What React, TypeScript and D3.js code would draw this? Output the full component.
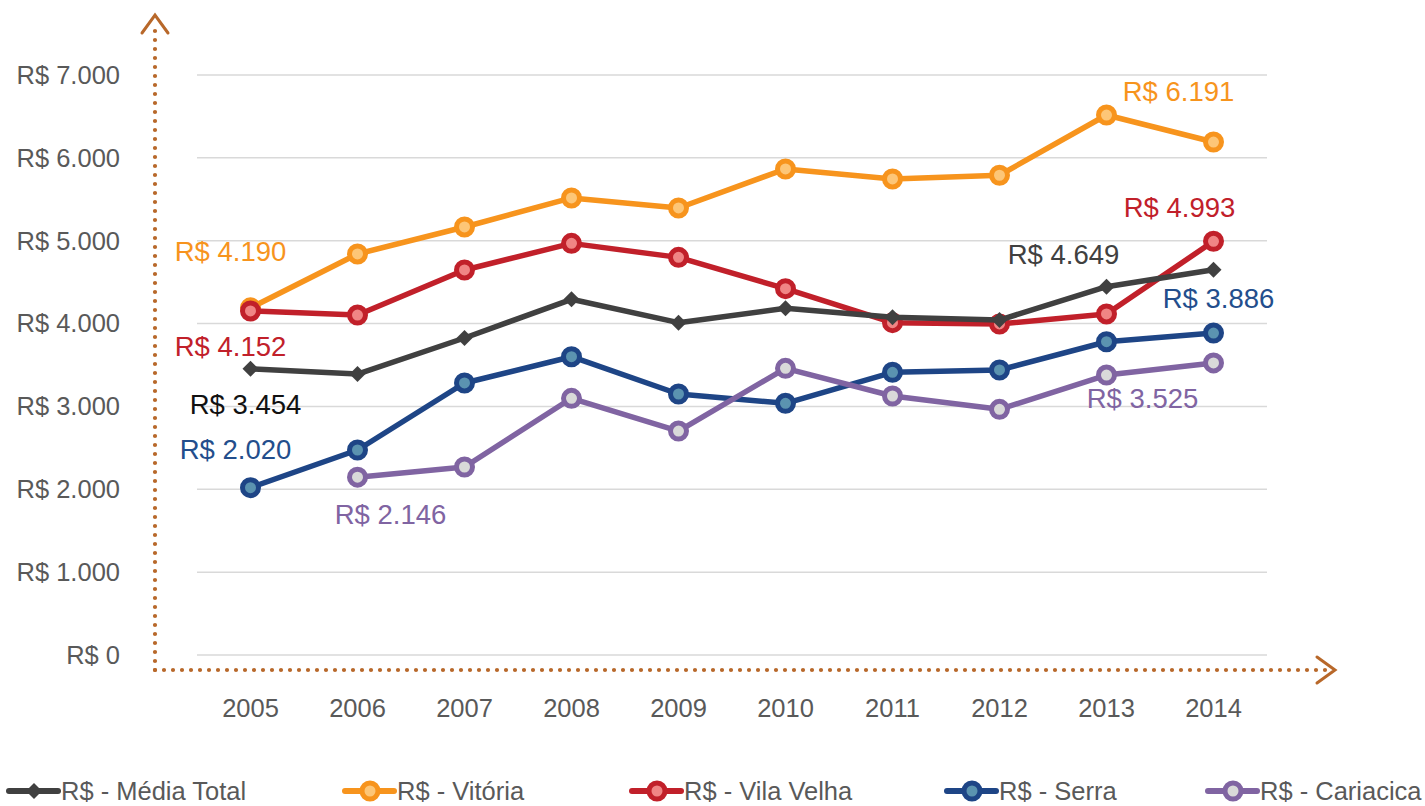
import React from 'react';
import * as d3 from 'd3';

// ---- data ----
const years = ['2005', '2006', '2007', '2008', '2009', '2010', '2011', '2012', '2013', '2014'];
const mediaTotal = [3454, 3391, 3826, 4293, 4011, 4184, 4075, 4043, 4445, 4649];
const vitoria = [4190, 4840, 5166, 5516, 5395, 5866, 5745, 5790, 6517, 6191];
const vilaVelha = [4152, 4103, 4647, 4968, 4799, 4421, 4011, 3995, 4116, 4993];
const serra = [2020, 2474, 3283, 3600, 3150, 3038, 3412, 3440, 3781, 3886];
const cariacica: (number | null)[] = [null, 2146, 2269, 3098, 2703, 3460, 3126, 2965, 3379, 3525];
const yTicks = [0, 1000, 2000, 3000, 4000, 5000, 6000, 7000];

const width = 1425;
const height = 806;
const font = '"Liberation Sans", Arial, sans-serif';
const axisColor = '#B8682A';
const textColor = '#595959';

type Series = {
  name: string;
  values: (number | null)[];
  color: string;
  inner: string;
  marker: 'circle' | 'diamond';
  labelColor: string;
  // which points get a label, and where the label sits relative to the point
  labels: { i: number; dx: number; dy: number }[];
  legendX: number;
};

const series: Series[] = [
  {
    name: 'R$ - Vitória', values: vitoria, color: '#F7941D', inner: '#FDC677', marker: 'circle',
    labelColor: '#F7941D', labels: [{ i: 0, dx: -20, dy: -47 }, { i: 9, dx: -35, dy: -41 }], legendX: 345,
  },
  {
    name: 'R$ - Vila Velha', values: vilaVelha, color: '#C1202A', inner: '#F08585', marker: 'circle',
    labelColor: '#C1202A', labels: [{ i: 0, dx: -20, dy: 45 }, { i: 9, dx: -34, dy: -24 }], legendX: 632,
  },
  {
    name: 'R$ - Serra', values: serra, color: '#1E4586', inner: '#5B93B0', marker: 'circle',
    labelColor: '#234E8C', labels: [{ i: 0, dx: -15, dy: -29 }, { i: 9, dx: 5, dy: -25 }], legendX: 947,
  },
  {
    name: 'R$ - Cariacica', values: cariacica, color: '#8064A2', inner: '#D9D9D9', marker: 'circle',
    labelColor: '#8064A2', labels: [{ i: 1, dx: 33, dy: 47 }, { i: 9, dx: -71, dy: 45 }], legendX: 1208,
  },
  {
    name: 'R$ - Média Total', values: mediaTotal, color: '#404040', inner: '#404040', marker: 'diamond',
    labelColor: '#111111', labels: [{ i: 0, dx: -5, dy: 45 }, { i: 9, dx: -150, dy: -6 }], legendX: 9,
  },
];

const ptBR = d3.formatLocale({ decimal: ',', thousands: '.', grouping: [3], currency: ['R$ ', ''] });
const fmt = ptBR.format('$,.0f');

const x = d3.scaleBand<string>().domain(years).range([197, 1267]);
const y = d3.scaleLinear().domain([0, 7000]).range([655, 75]);
const cx = (yr: string) => (x(yr) ?? 0) + x.bandwidth() / 2;

const Marker = ({ s, px, py }: { s: Series; px: number; py: number }) =>
  s.marker === 'diamond' ? (
    <path d={`M${px},${py - 8}L${px + 8},${py}L${px},${py + 8}L${px - 8},${py}Z`} fill={s.color} />
  ) : (
    <circle cx={px} cy={py} r={8} fill={s.inner} stroke={s.color} strokeWidth={5} />
  );

export default function App() {
  const line = d3.line<number | null>()
    .defined((d) => d != null)
    .x((_, i) => cx(years[i]))
    .y((d) => y(d as number));

  const axisY = 670;
  const axisX = 155;

  return (
    <svg width={width} height={height} style={{ position: 'absolute', left: 0, top: 0, background: '#fff' }}
      fontFamily={font}>
      {/* gridlines */}
      {yTicks.map((t) => (
        <line key={t} x1={197} x2={1267} y1={y(t)} y2={y(t)} stroke="#D9D9D9" strokeWidth={1.5} />
      ))}
      {/* y tick labels */}
      {yTicks.map((t) => (
        <text key={t} x={120} y={y(t)} dy="0.35em" textAnchor="end" fontSize={25.5} fill={textColor}>
          {fmt(t)}
        </text>
      ))}
      {/* x tick labels */}
      {years.map((yr) => (
        <text key={yr} x={cx(yr)} y={717} textAnchor="middle" fontSize={25.5} fill={textColor}>{yr}</text>
      ))}

      {/* dotted axes with arrowheads */}
      <g stroke={axisColor} fill="none" strokeLinecap="round">
        <line x1={axisX} y1={axisY} x2={axisX} y2={24} strokeWidth={4.2} strokeDasharray="0 9" />
        <line x1={axisX} y1={axisY} x2={1330} y2={axisY} strokeWidth={4.2} strokeDasharray="0 9" />
        <path d={`M${axisX - 13},${33}L${axisX},${15}L${axisX + 13},${33}`} strokeWidth={3} strokeLinejoin="miter" />
        <path d={`M1317,${axisY - 13}L1335,${axisY}L1317,${axisY + 13}`} strokeWidth={3} />
      </g>

      {/* series lines and markers */}
      {series.map((s) => (
        <g key={s.name}>
          <path d={line(s.values) ?? ''} fill="none" stroke={s.color} strokeWidth={5.5} strokeLinejoin="round" />
          {s.values.map((v, i) =>
            v == null ? null : <Marker key={i} s={s} px={cx(years[i])} py={y(v)} />
          )}
        </g>
      ))}

      {/* data labels */}
      {series.map((s) =>
        s.labels.map((l) => {
          const v = s.values[l.i] as number;
          const isLast = l.i === years.length - 1 && s.marker === 'diamond';
          return (
            <text key={s.name + l.i} x={cx(years[l.i]) + l.dx} y={y(v) + l.dy} textAnchor="middle"
              fontSize={27.5} fill={isLast ? '#404040' : s.labelColor}>
              {fmt(v)}
            </text>
          );
        })
      )}

      {/* legend */}
      {series.map((s) => (
        <g key={s.name} transform={`translate(${s.legendX},791)`}>
          <line x1={0} x2={49} y1={0} y2={0} stroke={s.color} strokeWidth={6} strokeLinecap="round" />
          <Marker s={s} px={25} py={0} />
          <text x={52} y={9} fontSize={25.5} fill={textColor}>{s.name}</text>
        </g>
      ))}
    </svg>
  );
}
